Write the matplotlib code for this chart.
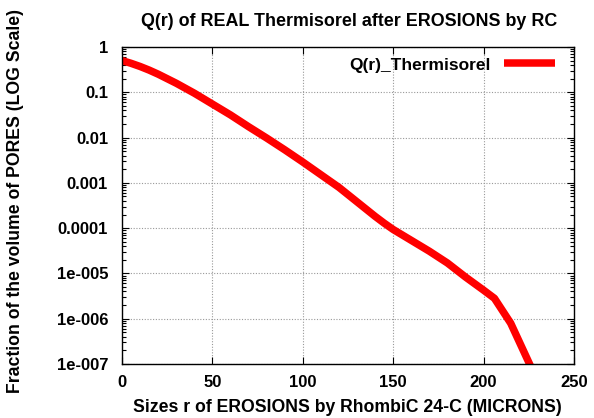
import matplotlib
matplotlib.use("Agg")
import matplotlib.pyplot as plt
import matplotlib.ticker as mticker
import numpy as np

plt.rcParams['font.family'] = ['Liberation Sans', 'DejaVu Sans']
plt.rcParams['font.weight'] = 'bold'

title = "Q(r) of REAL Thermisorel after EROSIONS by RC"
xlabel = "Sizes r of EROSIONS by RhombiC 24-C (MICRONS)"
ylabel = "Fraction of the volume of PORES (LOG Scale)"
series_name = "Q(r)_Thermisorel"

r_values = [0, 5, 10, 15, 20, 25, 30, 40, 50, 60, 70, 80, 90, 100, 110, 120, 130, 140,
            145, 150, 155, 160, 170, 180, 190, 200, 206, 215, 226]
log_q = [-0.30, -0.36, -0.43, -0.51, -0.60, -0.70, -0.80, -1.02, -1.26, -1.50, -1.76,
         -2.01, -2.27, -2.54, -2.82, -3.10, -3.42, -3.74, -3.89, -4.03, -4.15, -4.27,
         -4.51, -4.77, -5.08, -5.37, -5.55, -6.10, -7.05]
q_values = [10 ** v for v in log_q]

x_ticks = [0, 50, 100, 150, 200, 250]
y_ticks = [1, 0.1, 0.01, 0.001, 0.0001, 1e-5, 1e-6, 1e-7]
y_tick_labels = ["1", "0.1", "0.01", "0.001", "0.0001", "1e-005", "1e-006", "1e-007"]

W, H = 594, 418
fig = plt.figure(figsize=(W/100, H/100), dpi=100)
L, R, T, B = 122, 574, 47, 364
ax = fig.add_axes([L/W, 1 - B/H, (R-L)/W, (B-T)/H])

ax.plot(r_values, q_values, color='#ff0000', linewidth=5.4, label=series_name,
        solid_capstyle='butt', solid_joinstyle='round')

ax.set_yscale('log')
ax.set_xlim(0, 250)
ax.set_ylim(1e-7, 1)
ax.set_xticks(x_ticks)
ax.set_xticklabels([str(t) for t in x_ticks])
ax.set_yticks(y_ticks)
ax.set_yticklabels(y_tick_labels)
ax.yaxis.set_minor_locator(mticker.LogLocator(base=10, subs=np.arange(2, 10), numticks=20))
ax.yaxis.set_minor_formatter(mticker.NullFormatter())

ax.tick_params(which='both', direction='in', top=True, right=True, labelsize=12,
               width=0.8, colors='black')
ax.tick_params(axis='y', which='major', length=5, pad=10)
ax.tick_params(axis='x', which='major', length=5, pad=8)
ax.tick_params(which='minor', length=3)
for lab in ax.get_xticklabels() + ax.get_yticklabels():
    lab.set_fontweight('bold')

ax.grid(True, which='major', color='#999999', linestyle=(0, (1, 1.5)), linewidth=0.8)
for s in ax.spines.values():
    s.set_linewidth(1.0)

fig.text(349/W, 1 - 21/H, title, fontsize=12.9, fontweight='bold', ha='center', va='center')
fig.text(347/W, 1 - 408/H, xlabel, fontsize=12.7, fontweight='bold', ha='center', va='center')
fig.text(16/W, 1 - 201/H, ylabel, fontsize=12.7, fontweight='bold', ha='center', va='center',
         rotation=90)

leg = ax.legend(loc='upper right', frameon=False, fontsize=12.5, handlelength=2.9,
                markerfirst=False, borderaxespad=0.2, handletextpad=0.8,
                bbox_to_anchor=(0.98, 1.0))
for t in leg.get_texts():
    t.set_fontweight('bold')

fig.savefig("out.png", dpi=100)
